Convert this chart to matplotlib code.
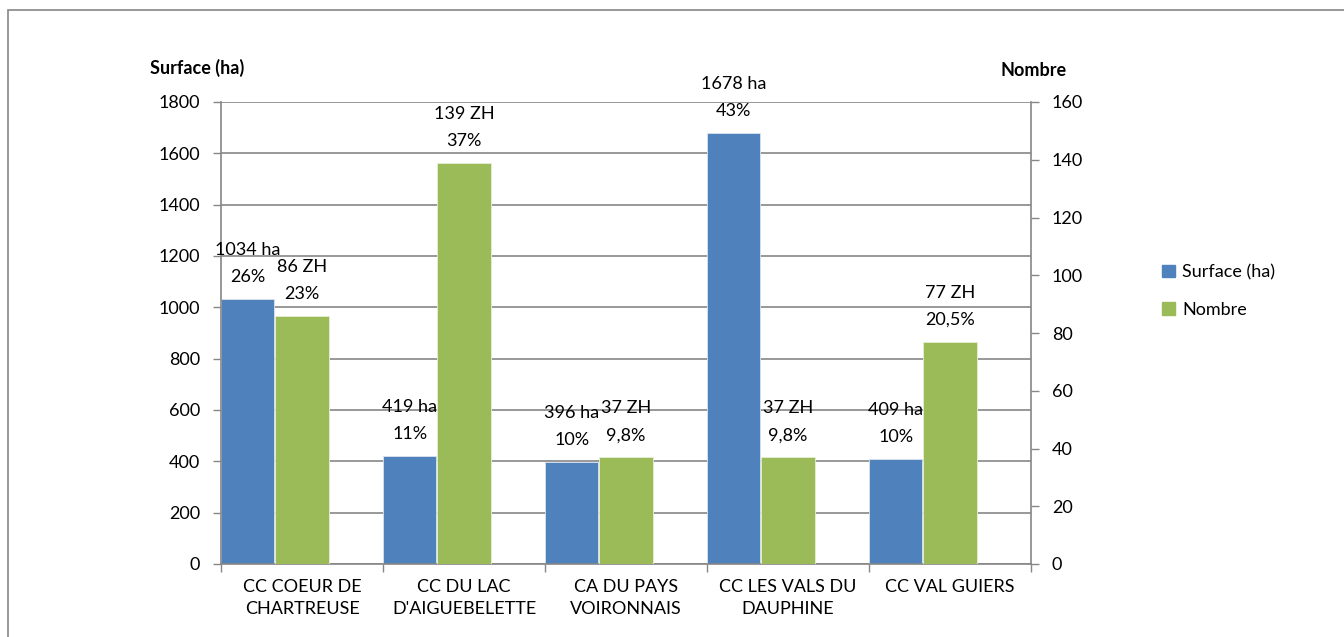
import matplotlib.pyplot as plt
from matplotlib.patches import Rectangle

# communautés de communes
categories = ["CC COEUR DE\nCHARTREUSE", "CC DU LAC\nD'AIGUEBELETTE", "CA DU PAYS\nVOIRONNAIS",
              "CC LES VALS DU\nDAUPHINE", "CC VAL GUIERS"]
surface = [1034, 419, 396, 1678, 409]
nombre = [86, 139, 37, 37, 77]
surface_pct = ["26%", "11%", "10%", "43%", "10%"]
nombre_pct = ["23%", "37%", "9,8%", "9,8%", "20,5%"]

BLUE = "#4F81BD"
GREEN = "#9BBB59"
GRAY = "#868686"

plt.rcParams["font.family"] = ["Lato", "DejaVu Sans"]
plt.rcParams["font.size"] = 13

fig = plt.figure(figsize=(13.44, 6.37), dpi=100)
W, H = 1344, 637
ax = fig.add_axes([221 / W, (H - 564) / H, 810 / W, 462 / H])
ax2 = ax.twinx()

x = list(range(len(categories)))
bw = 0.33
xb = [i + bw / 2 for i in x]
xg = [i + 0.006 + bw * 1.5 for i in x]

ax.bar(xb, surface, width=bw, color=BLUE, edgecolor="#dbe4f0", linewidth=0.6, zorder=2)
ax2.bar(xg, nombre, width=bw, color=GREEN, edgecolor="#e6eed6", linewidth=0.6, zorder=2)

ax.set_xlim(0, 5)
ax.set_ylim(0, 1800)
ax2.set_ylim(0, 160)
ax.set_yticks(range(0, 1801, 200))
ax2.set_yticks(range(0, 161, 20))

ax.set_axisbelow(True)
ax.yaxis.grid(True, color=GRAY, linewidth=1.2)
ax.xaxis.grid(False)

# category separators as major ticks, names on minor ticks
ax.set_xticks(range(0, 6))
ax.set_xticklabels([])
ax.set_xticks([i + 0.5 for i in x], minor=True)
ax.set_xticklabels(categories, minor=True, linespacing=1.45)
ax.tick_params(axis="x", which="major", length=6, color=GRAY, width=1)
ax.tick_params(axis="x", which="minor", length=0, pad=11)
ax.tick_params(axis="y", length=6, color=GRAY, width=1, pad=9)
ax2.tick_params(axis="y", length=6, color=GRAY, width=1, pad=9)

for s in ["top", "right"]:
    ax.spines[s].set_visible(False)
for s in ["left", "bottom"]:
    ax.spines[s].set_color(GRAY)
    ax.spines[s].set_linewidth(1.2)
for s in ["top", "left", "bottom"]:
    ax2.spines[s].set_visible(False)
ax2.spines["right"].set_color(GRAY)
ax2.spines["right"].set_linewidth(1.2)

# value labels above bars
for xi, v, p in zip(xb, surface, surface_pct):
    ax.annotate(f"{v} ha", (xi, v), xytext=(0, 49), textcoords="offset pixels",
                ha="center", va="center")
    ax.annotate(p, (xi, v), xytext=(0, 22), textcoords="offset pixels",
                ha="center", va="center")
for xi, v, p in zip(xg, nombre, nombre_pct):
    ax2.annotate(f"{v} ZH", (xi, v), xytext=(0, 49), textcoords="offset pixels",
                 ha="center", va="center")
    ax2.annotate(p, (xi, v), xytext=(0, 22), textcoords="offset pixels",
                 ha="center", va="center")

fig.text(150 / W, 1 - 68 / H, "Surface (ha)", fontweight="bold", ha="left", va="center")
fig.text(1000 / W, 1 - 70 / H, "Nombre", fontweight="bold", ha="left", va="center")

# legend
fig.legend([Rectangle((0, 0), 1, 1, color=BLUE), Rectangle((0, 0), 1, 1, color=GREEN)],
           ["Surface (ha)", "Nombre"], loc="center left",
           bbox_to_anchor=(1146 / W, 1 - 291 / H), frameon=False,
           handlelength=0.7, handleheight=0.7, handletextpad=0.4, labelspacing=1.2)

# outer frame of the chart area
fig.patches.append(Rectangle((8 / W, -0.1), 1.2, 1.1 - 9.5 / H, transform=fig.transFigure,
                             fill=False, edgecolor=GRAY, linewidth=1.2))

fig.savefig("out.png", dpi=100)
